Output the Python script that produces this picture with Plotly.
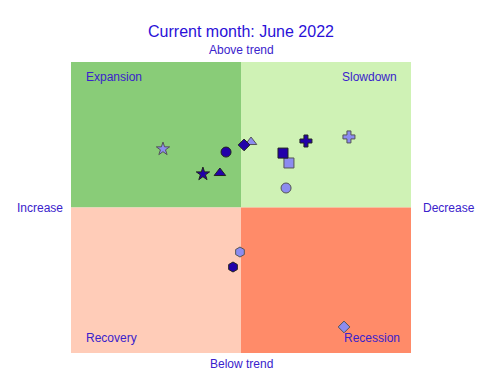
import plotly.graph_objects as go

# Indicators: dark = current month, light = previous month
symbols = ["star", "circle", "diamond", "triangle-up", "cross", "square", "hexagon"]
current_x = [-0.224, -0.088, 0.018, -0.124, 0.382, 0.247, -0.047]
current_y = [0.230, 0.381, 0.430, 0.237, 0.457, 0.374, -0.409]
previous_x = [-0.459, 0.265, 0.606, 0.059, 0.635, 0.282, -0.006]
previous_y = [0.402, 0.134, -0.821, 0.450, 0.485, 0.306, -0.306]

quadrant_labels = ["Expansion", "Slowdown", "Recovery", "Recession"]
axis_labels = ["Above trend", "Below trend", "Increase", "Decrease"]
title_text = "Current month: June 2022"

text_color = "#3a22cc"
title_color = "#2a10d8"
dark = "#2200aa"
light = "#8c8cf0"
marker_sizes = [10, 10, 9, 10, 10, 10, 10]

fig = go.Figure()

quads = [(-1, 0, 0, 1, "#89cc78"), (0, 1, 0, 1, "#cff2b5"),
         (-1, 0, -1, 0, "#ffccb8"), (0, 1, -1, 0, "#ff8b69")]
for x0, x1, y0, y1, c in quads:
    fig.add_shape(type="rect", x0=x0, x1=x1, y0=y0, y1=y1, fillcolor=c,
                  line=dict(width=0), layer="below")

fig.add_trace(go.Scatter(x=previous_x, y=previous_y, mode="markers",
                         marker=dict(symbol=symbols, size=marker_sizes, color=light, opacity=1,
                                     line=dict(color="#555555", width=1)),
                         showlegend=False))
fig.add_trace(go.Scatter(x=current_x, y=current_y, mode="markers",
                         marker=dict(symbol=symbols, size=marker_sizes, color=dark, opacity=1,
                                     line=dict(color="#222222", width=1)),
                         showlegend=False))

ann = [
    dict(x=-0.924, y=0.9, text=quadrant_labels[0], xanchor="left", yanchor="middle"),
    dict(x=0.93, y=0.9, text=quadrant_labels[1], xanchor="right", yanchor="middle"),
    dict(x=-0.924, y=-0.9, text=quadrant_labels[2], xanchor="left", yanchor="middle"),
    dict(x=0.947, y=-0.9, text=quadrant_labels[3], xanchor="right", yanchor="middle"),
]
for a in ann:
    fig.add_annotation(xref="x", yref="y", showarrow=False,
                       font=dict(size=12, color=text_color), **a)

paper_ann = [
    dict(x=0.5, y=1.0, text=axis_labels[0], yanchor="bottom", xanchor="center", yshift=3),
    dict(x=0.5, y=0.0, text=axis_labels[1], yanchor="top", xanchor="center", yshift=-2),
    dict(x=0.0, y=0.5, text=axis_labels[2], xanchor="right", yanchor="middle", xshift=-6),
    dict(x=1.0, y=0.5, text=axis_labels[3], xanchor="left", yanchor="middle", xshift=10),
]
for a in paper_ann:
    fig.add_annotation(xref="paper", yref="paper", showarrow=False,
                       font=dict(size=12, color=text_color), **a)

fig.update_layout(
    width=487, height=384,
    margin=dict(l=63, r=84, t=54, b=39),
    paper_bgcolor="white", plot_bgcolor="white",
    font=dict(family="Liberation Sans, Arial, sans-serif", color=text_color),
    title=dict(text=title_text, xref="paper", x=0.5, xanchor="center", y=0.94, yanchor="middle",
               font=dict(size=16, color=title_color)),
    xaxis=dict(range=[-1, 1], visible=False, fixedrange=True),
    yaxis=dict(range=[-1, 1], visible=False, fixedrange=True),
)

fig.write_html("out.html")
